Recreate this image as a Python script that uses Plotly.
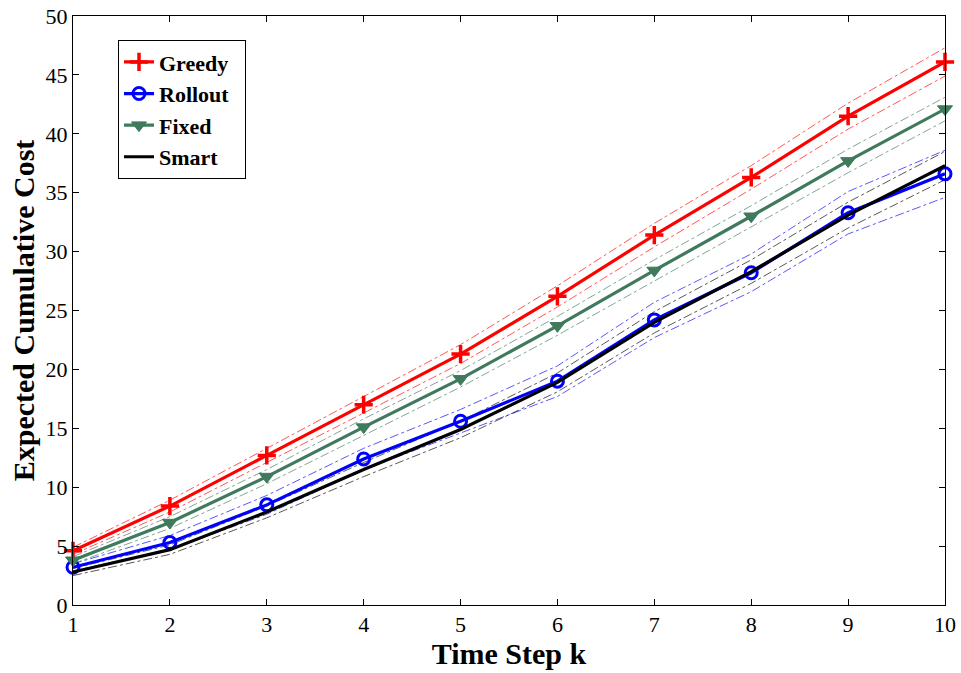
import plotly.graph_objects as go

# Time steps
steps = [1, 2, 3, 4, 5, 6, 7, 8, 9, 10]

# Mean expected cumulative cost per policy
greedy = [4.6, 8.4, 12.7, 17.0, 21.3, 26.2, 31.4, 36.3, 41.5, 46.1]
rollout = [3.2, 5.3, 8.5, 12.4, 15.6, 19.0, 24.2, 28.2, 33.3, 36.6]
fixed = [3.8, 7.0, 10.9, 15.1, 19.2, 23.7, 28.4, 33.0, 37.7, 42.1]
smart = [2.8, 4.7, 7.9, 11.5, 14.9, 18.9, 24.0, 28.3, 33.1, 37.3]

# Half-widths of the confidence bands
greedy_hw = [0.3, 0.5, 0.6, 0.7, 0.8, 0.9, 1.0, 1.0, 1.1, 1.2]
rollout_hw = [0.3, 0.6, 0.8, 0.9, 1.0, 1.3, 1.5, 1.6, 1.8, 2.0]
fixed_hw = [0.3, 0.5, 0.6, 0.7, 0.7, 0.8, 0.9, 0.9, 1.0, 1.0]
smart_hw = [0.3, 0.4, 0.5, 0.6, 0.7, 0.8, 0.9, 1.0, 1.1, 1.2]

FONT = "Liberation Serif, Times New Roman, serif"
GREEN = "#3f7a5c"

series = [
    ("Greedy", greedy, greedy_hw, "#ff0000", dict(symbol="cross-thin", size=13,
                                                 line=dict(width=3.5, color="#ff0000"))),
    ("Rollout", rollout, rollout_hw, "#0000ff", dict(symbol="circle-open", size=12,
                                                    line=dict(width=3, color="#0000ff"))),
    ("Fixed", fixed, fixed_hw, GREEN, dict(symbol="triangle-down", size=13, color=GREEN,
                                           line=dict(width=1, color=GREEN))),
    ("Smart", smart, smart_hw, "#000000", None),
]

fig = go.Figure()

# Dash-dot band edges drawn first so the mean curves sit on top
for name, mean, hw, color, _ in series:
    upper = [m + h for m, h in zip(mean, hw)]
    lower = [m - h for m, h in zip(mean, hw)]
    for edge in (upper, lower):
        fig.add_trace(go.Scatter(
            x=steps, y=edge, mode="lines", showlegend=False, hoverinfo="skip",
            line=dict(color=color, width=1, dash="dashdot"), opacity=0.65,
            cliponaxis=False,
        ))

for name, mean, hw, color, marker in series:
    fig.add_trace(go.Scatter(
        x=steps, y=mean, name="<b>%s</b>&nbsp;&nbsp;" % name,
        mode="lines+markers" if marker else "lines",
        line=dict(color=color, width=3.2),
        marker=marker if marker else None,
        cliponaxis=False,
    ))

axis_common = dict(
    showgrid=False, zeroline=False, showline=True, linecolor="black", linewidth=1,
    mirror="ticks", ticks="inside", ticklen=6, tickcolor="black", automargin=False,
    tickfont=dict(family=FONT, size=22, color="black"),
)

fig.update_layout(
    width=961, height=673,
    margin=dict(l=73, r=16, t=16, b=68),
    paper_bgcolor="white", plot_bgcolor="white",
    showlegend=True,
    legend=dict(
        x=0.0516, y=0.959, xanchor="left", yanchor="top",
        bgcolor="white", bordercolor="black", borderwidth=1,
        font=dict(family=FONT, size=22, color="black"),
        tracegroupgap=0,
    ),
    xaxis=dict(
        range=[1, 10], tickvals=steps, **axis_common,
        title=dict(text="<b>Time Step k</b>", font=dict(family=FONT, size=30, color="black"),
                   standoff=6),
    ),
    yaxis=dict(
        range=[0, 50], tickvals=list(range(0, 51, 5)), **axis_common,
        title=dict(text="<b>Expected Cumulative Cost</b>",
                   font=dict(family=FONT, size=30, color="black"), standoff=2),
    ),
)

fig.write_html("out.html")
